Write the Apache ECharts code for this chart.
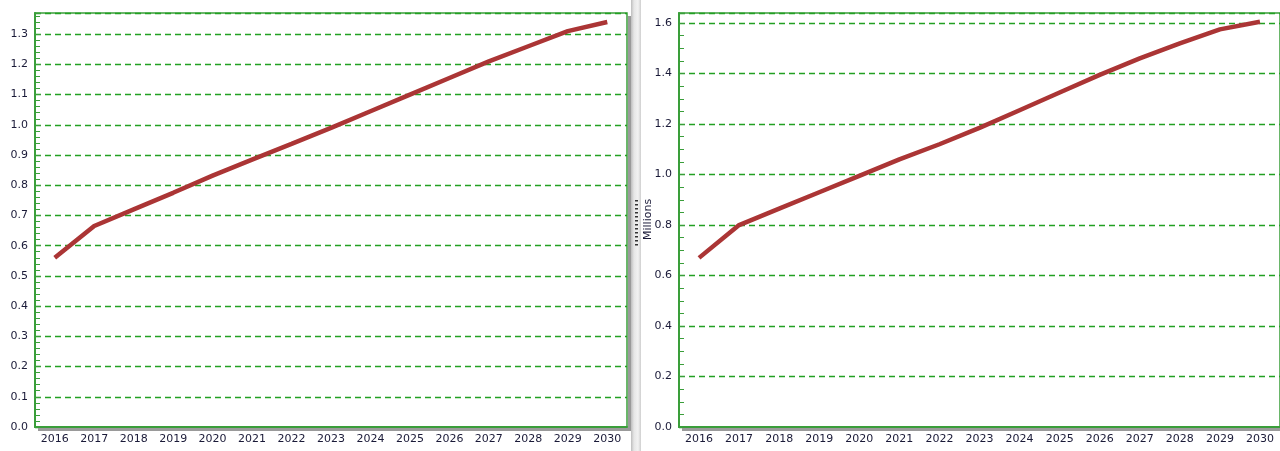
<!DOCTYPE html>
<html><head><meta charset="utf-8">
<script src="https://cdn.jsdelivr.net/npm/echarts@6/dist/echarts.min.js"></script>
<style>html,body{margin:0;padding:0;background:#fff}#c{width:1280px;height:451px}</style>
</head><body><div id="c"></div>
<script>
const years = ['2016','2017','2018','2019','2020','2021','2022','2023','2024','2025','2026','2027','2028','2029','2030'];
const leftValues = [0.56,0.665,0.72,0.775,0.832,0.885,0.937,0.99,1.045,1.10,1.155,1.21,1.26,1.31,1.34];
const rightValues = [0.67,0.80,0.865,0.93,0.995,1.06,1.12,1.185,1.255,1.325,1.395,1.46,1.52,1.575,1.605];
const rightAxisName = 'Millions';

const green = '#3a9e3a';
const txt = '#1a1a38';
const font = 'DejaVu Sans';

function xAxis(gi){
  return {gridIndex:gi,type:'category',data:years,boundaryGap:true,
    axisLine:{lineStyle:{color:green,width:2}},
    axisTick:{inside:true,alignWithLabel:true,length:10,lineStyle:{color:green,width:1}},
    axisLabel:{color:txt,fontFamily:font,fontSize:11,margin:7},
    splitLine:{show:false}};
}
function yAxis(gi,max,interval,minor){
  return {gridIndex:gi,type:'value',min:0,max:max,interval:interval,
    axisLine:{show:true,lineStyle:{color:green,width:2}},
    axisTick:{show:true,inside:true,length:6,lineStyle:{color:green}},
    minorTick:{show:true,splitNumber:minor,length:5,lineStyle:{color:green}},
    axisLabel:{color:txt,fontFamily:font,fontSize:11,margin:7,showMaxLabel:false,
      formatter:v=>v.toFixed(1)},
    splitLine:{show:true,lineStyle:{color:'#22a022',type:[6,4],width:1.3}}};
}
const chart = echarts.init(document.getElementById('c'));
chart.setOption({
  animation:false,
  backgroundColor:'#fff',
  grid:[
    {left:35,top:13,width:592,bottom:24,show:true,borderColor:green,borderWidth:1.5},
    {left:679,top:13,right:-3,bottom:24,show:true,borderColor:green,borderWidth:1.5}
  ],
  xAxis:[xAxis(0),xAxis(1)],
  yAxis:[yAxis(0,1.37,0.1,5),yAxis(1,1.64,0.2,4)],
  series:[
    {type:'line',xAxisIndex:0,yAxisIndex:0,data:leftValues,symbol:'none',
     lineStyle:{color:'#ab3535',width:4.5}},
    {type:'line',xAxisIndex:1,yAxisIndex:1,data:rightValues,symbol:'none',
     lineStyle:{color:'#ab3535',width:4.5}}
  ],
  graphic:[
    {type:'rect',shape:{x:628,y:16,width:3,height:414},z:5,style:{fill:'#9a9a9a'}},
    {type:'rect',shape:{x:38,y:428,width:593,height:3},z:5,style:{fill:'#9a9a9a'}},
    {type:'rect',shape:{x:682,y:428,width:600,height:3},z:5,style:{fill:'#9a9a9a'}},
    {type:'rect',shape:{x:631,y:0,width:10,height:451},z:10,
     style:{fill:new echarts.graphic.LinearGradient(0,0,1,0,[
       {offset:0,color:'#bdbdbd'},{offset:0.3,color:'#e6e6e6'},{offset:0.7,color:'#f2f2f2'},{offset:1,color:'#cfcfcf'}])}},
    ...Array.from({length:12},(_,i)=>({type:'rect',z:11,shape:{x:635,y:200+i*4,width:3,height:1.5},style:{fill:'#333'}})),
    {type:'text',z:11,x:643,y:240,rotation:Math.PI/2,
     style:{text:rightAxisName,fill:txt,font:'11px DejaVu Sans'}}
  ]
});
</script></body></html>
